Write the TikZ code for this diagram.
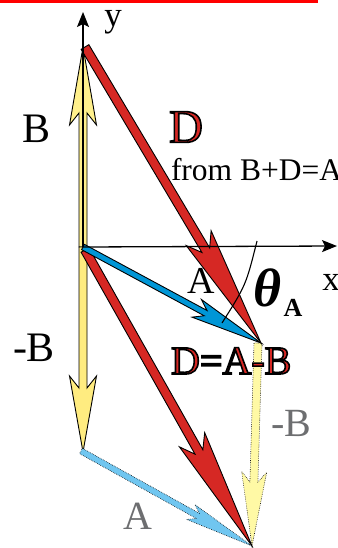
\documentclass[tikz,border=0pt]{standalone}
\usepackage{fontspec}
\setmainfont{Liberation Serif}
\usetikzlibrary{calc,arrows.meta}
\definecolor{redD}{RGB}{214,40,36}
\definecolor{blueA}{RGB}{0,150,214}
\definecolor{lblue}{RGB}{112,198,240}
\definecolor{yelB}{RGB}{255,240,140}
\definecolor{yelB2}{RGB}{255,236,128}
\definecolor{yelB3}{RGB}{255,249,165}
\definecolor{grayT}{RGB}{109,110,112}
\newcommand\fsz[1]{\fontsize{#1}{#1}\selectfont}
\newcommand\outl[1]{{\color{redD}\special{pdf:literal direct 2 Tr 0 0 0 RG 1.6 w}#1\special{pdf:literal direct 0 Tr}}}
% #1 style, #2 start, #3 end, #4 shaft width, #5 head length, #6 head width, #7 notch
\newcommand\fatarrow[7]{%
 \pgfmathsetmacro\fhs{#4/2}\pgfmathsetmacro\fhw{#6/2}\pgfmathsetmacro\fnd{#5-#7}%
 \coordinate (fh) at ($(#3)!#5pt!(#2)$);
 \coordinate (fn) at ($(#3)!\fnd pt!(#2)$);
 \coordinate (fs1) at ($(#2)!\fhs pt!90:(#3)$);
 \coordinate (fs2) at ($(#2)!\fhs pt!-90:(#3)$);
 \coordinate (fn1) at ($(fn)!\fhs pt!90:(#3)$);
 \coordinate (fn2) at ($(fn)!\fhs pt!-90:(#3)$);
 \coordinate (fb1) at ($(fh)!\fhw pt!90:(#3)$);
 \coordinate (fb2) at ($(fh)!\fhw pt!-90:(#3)$);
 \path[#1] (fs1) -- (fn1) -- (fb1) -- (#3) -- (fb2) -- (fn2) -- (fs2) -- cycle;
}
\tikzset{
 solidarrow/.style={draw=black,line width=0.9pt,line join=miter},
 dotarrow/.style={draw=black,line width=0.6pt,dash pattern=on 0.6pt off 1.2pt},
 axis/.style={draw=black,line width=1.3pt,-{Stealth[length=15pt,width=12pt,inset=3pt]}},
 lbl/.style={inner sep=0pt,outer sep=0pt},
}
\begin{document}
\begin{tikzpicture}[x=1pt,y=-1pt]
\useasboundingbox (0,0) rectangle (337,548);
\clip (0,0) rectangle (337,548);
\fill[red] (0,0) rectangle (318,2.6);
% key points
\coordinate (O) at (83,247);
\coordinate (Btip) at (83,47);
\coordinate (mBtip) at (83,452);
\coordinate (Dstart) at (85,47);
\coordinate (Atip) at (261,343);
\coordinate (D2start) at (85,250);
\coordinate (Pend) at (252,546);
\coordinate (A2start) at (81,451);
\coordinate (mB2start) at (258,343);
\coordinate (yTop) at (83,12);
\coordinate (xEnd) at (337,246);
\coordinate (th1) at (257,241);
\coordinate (thc) at (246,285);
\coordinate (th2) at (222,323);
% yellow B vectors
\fatarrow{solidarrow,fill=yelB}{O}{Btip}{8}{78}{27}{12}
\fatarrow{solidarrow,fill=yelB2}{O}{mBtip}{8}{76}{27}{12}
% dotted translated vectors
\fatarrow{dotarrow,fill=yelB3}{mB2start}{Pend}{8}{74}{25}{10}
\fatarrow{dotarrow,fill=lblue}{A2start}{Pend}{6}{70}{17}{8}
% red D vectors
\fatarrow{solidarrow,fill=redD}{Dstart}{Atip}{9}{122}{29}{14}
\fatarrow{solidarrow,fill=redD}{D2start}{Pend}{9}{122}{29}{14}
% blue A
\fatarrow{solidarrow,fill=blueA}{O}{Atip}{6}{73}{20}{10}
% axes
\draw[axis] (O) -- (xEnd);
\draw[axis] (O) -- (yTop);
% theta arc
\draw[line width=1.1pt] (th1) .. controls (thc) .. (th2);
% labels
\node[lbl] (ly) at (113,22) {\fsz{35}y};
\node[lbl] (lx) at (331,282) {\fsz{35}x};
\node[lbl] (lB) at (37,129) {\fsz{42}B};
\node[lbl] (lmB) at (34,348) {\fsz{42}-B};
\node[lbl] (lD) at (186,127) {\fsz{47}\outl{D}};
\node[lbl,anchor=base west] (lfrom) at (171,180) {\fsz{31.5}from B+D=A};
\node[lbl] (lA) at (201,281) {\fsz{38}A};
\node[lbl] (lth) at (268,288) {\fsz{54}\bfseries\itshape θ};
\node[lbl] (lthA) at (293,308) {\fsz{26}\bfseries A};
\node[lbl,anchor=base west] (lDAB) at (171,374) {\fsz{40}\outl{D=A-B}};
\node[lbl] (lmB2) at (291,423) {\fsz{40}\color{grayT}-B};
\node[lbl] (lA2) at (138,516) {\fsz{40}\color{grayT}A};
\end{tikzpicture}
\end{document}
